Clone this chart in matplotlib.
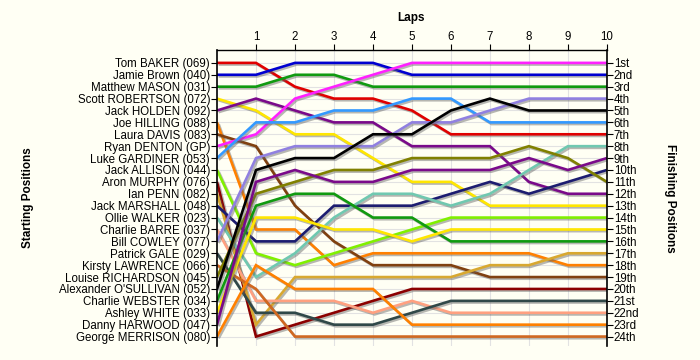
import matplotlib
matplotlib.use("Agg")
import matplotlib.pyplot as plt
import matplotlib.patheffects as pe

plt.rcParams['font.family'] = ['Liberation Sans', 'DejaVu Sans']

drivers = ["Tom BAKER (069)", "Jamie Brown (040)", "Matthew MASON (031)", "Scott ROBERTSON (072)",
           "Jack HOLDEN (092)", "Joe HILLING (088)", "Laura DAVIS (083)", "Ryan DENTON (GP)",
           "Luke GARDINER (053)", "Jack ALLISON (044)", "Aron MURPHY (076)", "Ian PENN (082)",
           "Jack MARSHALL (048)", "Ollie WALKER (023)", "Charlie BARRE (037)", "Bill COWLEY (077)",
           "Patrick GALE (029)", "Kirsty LAWRENCE (066)", "Louise RICHARDSON (045)",
           "Alexander O'SULLIVAN (052)", "Charlie WEBSTER (034)", "Ashley WHITE (033)",
           "Danny HARWOOD (047)", "George MERRISON (080)"]

colors = ["#e00000", "#0000d0", "#109a10", "#ffe600", "#7a0a8a", "#ff8000", "#804010", "#ff20ff",
          "#3399ff", "#80f000", "#8b0000", "#d8a830", "#1c1c70", "#70c8b0", "#ffa080", "#9080e0",
          "#304848", "#d06820", "#808000", "#000000", "#109a10", "#ffe600", "#7a0a8a", "#ff8000"]

laps = list(range(0, 11))

# positions at lap 0..10 for each driver (same order as drivers)
positions = [
    [1, 1, 3, 4, 4, 5, 7, 7, 7, 7, 7],
    [2, 2, 1, 1, 1, 2, 2, 2, 2, 2, 2],
    [3, 3, 2, 2, 3, 3, 3, 3, 3, 3, 3],
    [4, 5, 7, 7, 9, 11, 11, 13, 13, 13, 13],
    [5, 4, 5, 6, 6, 8, 8, 8, 11, 12, 12],
    [6, 15, 15, 18, 17, 17, 17, 17, 17, 18, 18],
    [7, 8, 13, 16, 18, 18, 18, 19, 19, 19, 19],
    [8, 7, 4, 3, 2, 1, 1, 1, 1, 1, 1],
    [9, 6, 6, 5, 5, 4, 4, 6, 6, 6, 6],
    [10, 17, 18, 17, 16, 15, 14, 14, 14, 14, 14],
    [11, 24, 23, 22, 21, 20, 20, 20, 20, 20, 20],
    [12, 23, 19, 19, 19, 19, 19, 18, 18, 17, 17],
    [13, 16, 16, 13, 13, 13, 12, 11, 12, 11, 10],
    [14, 19, 17, 14, 12, 12, 13, 12, 10, 8, 8],
    [15, 21, 21, 21, 22, 21, 22, 22, 22, 22, 22],
    [16, 9, 8, 8, 8, 6, 6, 5, 4, 4, 4],
    [17, 22, 22, 23, 23, 22, 21, 21, 21, 21, 21],
    [18, 20, 24, 24, 24, 24, 24, 24, 24, 24, 24],
    [19, 12, 11, 10, 10, 9, 9, 9, 8, 9, 11],
    [20, 10, 9, 9, 7, 7, 5, 4, 5, 5, 5],
    [21, 13, 12, 12, 14, 14, 16, 16, 16, 16, 16],
    [22, 14, 14, 15, 15, 16, 15, 15, 15, 15, 15],
    [23, 11, 10, 11, 11, 10, 10, 10, 9, 10, 9],
    [24, 18, 20, 20, 20, 23, 23, 23, 23, 23, 23],
]

finish_labels = ["1st", "2nd", "3rd"] + [f"{i}th" for i in range(4, 21)] + ["21st", "22nd", "23rd", "24th"]
lap_ticks = list(range(1, 11))

bg = "#fffff4"
fig = plt.figure(figsize=(7, 3.6), dpi=100, facecolor=bg)
ax = fig.add_axes([0.31, 0.038, 0.557, 0.823], facecolor=bg)

for pos, col in zip(positions, colors):
    ax.plot(laps, pos, color=col, lw=1.9, solid_joinstyle='miter', solid_capstyle='butt',
            path_effects=[pe.SimpleLineShadow(offset=(1.2, -1.2), shadow_color='#606060', alpha=0.45),
                          pe.Normal()])

fs = 8.3
ax.set_xlim(0, 10)
ax.set_ylim(24.82, -0.08)
ax.set_yticks(range(1, 25))
ax.set_yticklabels(drivers, fontsize=fs)
ax.set_xticks(lap_ticks)
ax.xaxis.tick_top()
ax.set_xticklabels([str(t) for t in lap_ticks], fontsize=fs)
ax.tick_params(axis='x', length=4, width=0.8, pad=1)
ax.tick_params(axis='y', length=4, width=0.8, pad=1)
ax.grid(True, color='#e2e2e2', lw=0.8)
ax.set_axisbelow(True)
ax.spines['bottom'].set_visible(False)
ax.spines['right'].set_visible(False)
ax.spines['left'].set_linewidth(1.2)
ax.spines['top'].set_linewidth(1.0)

ax2 = ax.twinx()
ax2.set_ylim(ax.get_ylim())
ax2.set_yticks(range(1, 25))
ax2.set_yticklabels(finish_labels, fontsize=fs)
ax2.tick_params(axis='y', length=4, width=0.8, pad=1)
for s in ['bottom', 'top', 'left']:
    ax2.spines[s].set_visible(False)
ax2.spines['right'].set_linewidth(1.2)

fig.text(0.587, 0.95, "Laps", ha='center', va='center', fontsize=8.5, fontweight='bold')
fig.text(0.04, 0.45, "Starting Positions", ha='center', va='center', rotation=90,
         fontsize=8.5, fontweight='bold')
fig.text(0.957, 0.45, "Finishing Positions", ha='center', va='center', rotation=-90,
         fontsize=8.5, fontweight='bold')

fig.savefig("out.png", dpi=100, facecolor=bg)
